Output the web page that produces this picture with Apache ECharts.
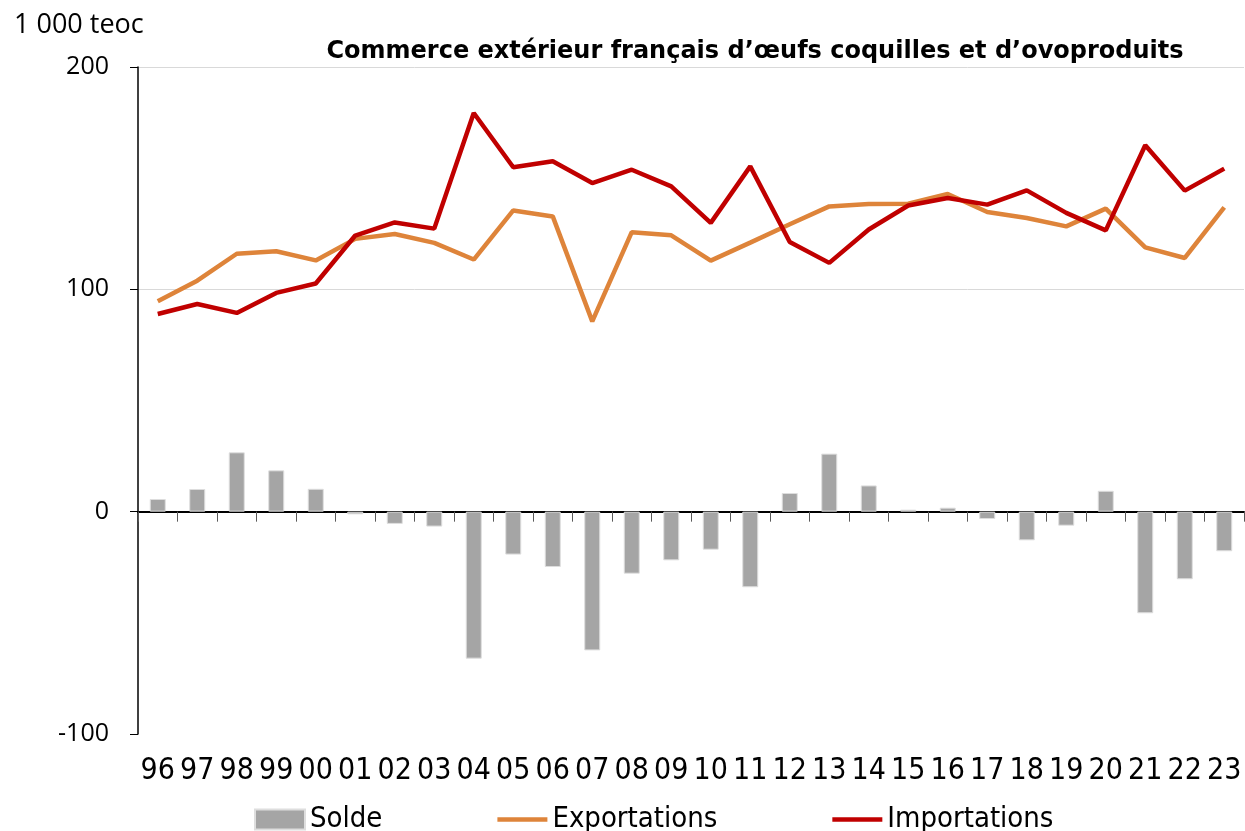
<!DOCTYPE html>
<html>
<head>
<meta charset="utf-8">
<script src="https://cdn.jsdelivr.net/npm/echarts@6/dist/echarts.min.js"></script>
<style>
  html, body { margin: 0; padding: 0; background: #fff; }
  #chart { width: 1245px; height: 831px; }
</style>
</head>
<body>
<div id="chart"></div>
<script>
// années (2 chiffres)
var years = ['96','97','98','99','00','01','02','03','04','05','06','07','08','09',
             '10','11','12','13','14','15','16','17','18','19','20','21','22','23'];

// 1 000 teoc
var solde = [5.7, 10.2, 26.7, 18.6, 10.3, -1.2, -5.5, -6.7, -66.1, -19.3, -24.9, -62.4, -27.9, -21.9,
             -17.1, -34.0, 8.4, 26.1, 11.8, 0.9, 1.8, -3.3, -12.9, -6.3, 9.4, -45.7, -30.4, -17.8];
var exportations = [94.6, 103.9, 116.0, 117.1, 113.0, 122.7, 124.9, 120.9, 113.4, 135.5, 132.8, 85.6, 125.7, 124.3,
                    112.9, 121.0, 129.3, 137.3, 138.4, 138.5, 142.9, 134.8, 132.1, 128.3, 136.3, 118.9, 114.1, 136.9];
var importations = [88.9, 93.4, 89.4, 98.4, 102.6, 124.2, 130.1, 127.3, 179.3, 154.9, 157.6, 147.8, 153.8, 146.3,
                    129.9, 155.3, 121.3, 111.9, 126.9, 137.7, 141.1, 138.1, 144.5, 134.4, 126.5, 164.8, 144.4, 154.3];

var yTicks = { min: -100, max: 200, interval: 100 };

var narrow = "'Liberation Sans Narrow', 'DejaVu Sans Condensed', sans-serif";
var lineIcon = 'path://M0,0 H56 V5 H0 Z';

var chart = echarts.init(document.getElementById('chart'));
chart.setOption({
    animation: false,
    title: [
        {
            text: '1 000 teoc',
            left: 9, top: 7,
            textStyle: { fontFamily: 'Open Sans', fontSize: 27, fontWeight: 'normal', color: '#000' }
        },
        {
            text: 'Commerce extérieur français d’œufs coquilles et d’ovoproduits',
            left: 750, top: 35, textAlign: 'center',
            textStyle: { fontFamily: 'DejaVu Sans', fontSize: 24, fontWeight: 'bold', color: '#000' }
        }
    ],
    legend: {
        left: 249, top: 800,
        itemGap: 115,
        itemWidth: 50, itemHeight: 20,
        textStyle: { fontFamily: narrow, fontSize: 29, color: '#000' },
        data: [
            { name: 'Solde', icon: 'rect' },
            { name: 'Exportations', icon: lineIcon },
            { name: 'Importations', icon: lineIcon }
        ]
    },
    grid: { left: 138, right: 1, top: 67, bottom: 97, containLabel: false },
    xAxis: [
        {
            type: 'category',
            data: years,
            axisLine: { show: false, onZero: false },
            axisTick: { show: false },
            axisLabel: { margin: 22, fontFamily: narrow, fontSize: 30, color: '#000', interval: 0 }
        },
        {
            // ligne du zéro avec graduations
            type: 'category',
            data: years,
            position: 'bottom',
            axisLine: { show: true, onZero: true, lineStyle: { color: '#000', width: 2 } },
            axisTick: { show: true, length: 10, lineStyle: { color: '#595959', width: 1 } },
            axisLabel: { show: false }
        }
    ],
    yAxis: {
        type: 'value',
        min: yTicks.min, max: yTicks.max, interval: yTicks.interval,
        axisLine: { show: true, lineStyle: { color: '#000', width: 1.5 } },
        axisTick: { show: true, length: 8, lineStyle: { color: '#000' } },
        axisLabel: { margin: 29, fontFamily: 'Open Sans', fontSize: 25, color: '#000' },
        splitLine: { show: true, showMinLine: false, lineStyle: { color: '#d9d9d9', width: 1 } }
    },
    series: [
        {
            name: 'Solde',
            type: 'bar',
            data: solde,
            barWidth: 16,
            itemStyle: { color: '#a5a5a5', borderColor: '#dedede', borderWidth: 1 }
        },
        {
            name: 'Exportations',
            type: 'line',
            data: exportations,
            showSymbol: false,
            lineStyle: { color: '#de843a', width: 4.5 },
            itemStyle: { color: '#de843a' }
        },
        {
            name: 'Importations',
            type: 'line',
            data: importations,
            showSymbol: false,
            lineStyle: { color: '#c00000', width: 4.5 },
            itemStyle: { color: '#c00000' }
        }
    ]
});
</script>
</body>
</html>
